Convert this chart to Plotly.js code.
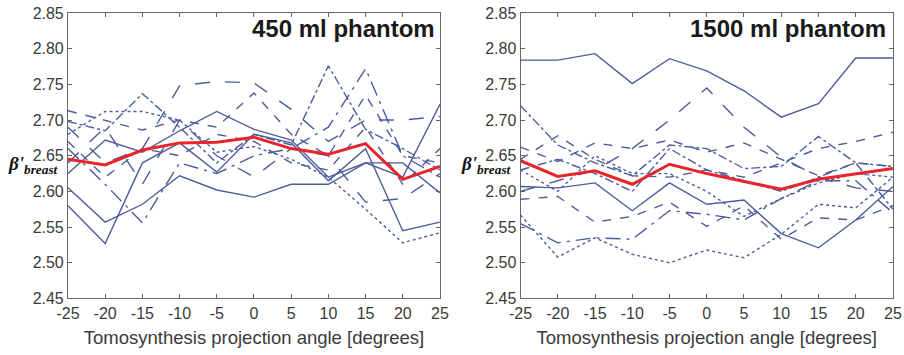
<!DOCTYPE html>
<html>
<head>
<meta charset="utf-8">
<script src="https://cdn.plot.ly/plotly-3.0.1.min.js"></script>
<style>html,body{margin:0;padding:0;background:#fff;}#chart{width:904px;height:355px;}</style>
</head>
<body>
<div id="chart"></div>
<script>
const angles = [-25, -20, -15, -10, -5, 0, 5, 10, 15, 20, 25];
const yTicks = [2.45, 2.50, 2.55, 2.60, 2.65, 2.70, 2.75, 2.80, 2.85];
const yTickLabels = ["2.45", "2.50", "2.55", "2.60", "2.65", "2.70", "2.75", "2.80", "2.85"];
const panelTitles = ["450 ml phantom", "1500 ml phantom"];
const xTitle = "Tomosynthesis projection angle [degrees]";

// 450 ml phantom
const left1 = [2.605, 2.557, 2.582, 2.622, 2.602, 2.592, 2.610, 2.610, 2.640, 2.640, 2.598];
const left2 = [2.580, 2.527, 2.640, 2.668, 2.627, 2.680, 2.668, 2.615, 2.660, 2.545, 2.557];
const left3 = [2.625, 2.672, 2.655, 2.685, 2.712, 2.687, 2.672, 2.620, 2.640, 2.620, 2.722];
const left4 = [2.690, 2.640, 2.660, 2.748, 2.754, 2.752, 2.715, 2.670, 2.700, 2.700, 2.705];
const left5 = [2.713, 2.700, 2.686, 2.700, 2.690, 2.738, 2.680, 2.650, 2.735, 2.650, 2.640];
const left6 = [2.698, 2.685, 2.737, 2.690, 2.640, 2.680, 2.665, 2.776, 2.687, 2.660, 2.630];
const left7 = [2.680, 2.712, 2.712, 2.700, 2.655, 2.663, 2.645, 2.620, 2.575, 2.528, 2.542];
const left8 = [2.660, 2.610, 2.556, 2.640, 2.625, 2.650, 2.660, 2.690, 2.772, 2.650, 2.620];
const left9 = [2.640, 2.690, 2.610, 2.700, 2.650, 2.620, 2.660, 2.650, 2.585, 2.590, 2.625];
const left10 = [2.670, 2.620, 2.660, 2.650, 2.680, 2.670, 2.640, 2.630, 2.690, 2.610, 2.660];
const leftMean = [2.645, 2.637, 2.658, 2.668, 2.669, 2.676, 2.660, 2.652, 2.667, 2.617, 2.635];

// 1500 ml phantom
const right1 = [2.784, 2.784, 2.793, 2.751, 2.786, 2.769, 2.741, 2.704, 2.723, 2.787, 2.787];
const right2 = [2.600, 2.615, 2.630, 2.660, 2.700, 2.745, 2.690, 2.648, 2.620, 2.605, 2.600];
const right3 = [2.720, 2.665, 2.640, 2.622, 2.665, 2.660, 2.632, 2.635, 2.677, 2.640, 2.635];
const right4 = [2.662, 2.642, 2.668, 2.660, 2.672, 2.655, 2.668, 2.645, 2.622, 2.640, 2.635];
const right5 = [2.645, 2.678, 2.645, 2.622, 2.620, 2.630, 2.620, 2.640, 2.660, 2.670, 2.683];
const right6 = [2.630, 2.600, 2.650, 2.625, 2.625, 2.600, 2.565, 2.590, 2.612, 2.625, 2.620];
const right7 = [2.607, 2.605, 2.612, 2.573, 2.612, 2.582, 2.588, 2.541, 2.521, 2.560, 2.607];
const right8 = [2.589, 2.593, 2.557, 2.565, 2.585, 2.551, 2.580, 2.533, 2.563, 2.560, 2.580];
const right9 = [2.567, 2.508, 2.535, 2.512, 2.500, 2.518, 2.507, 2.540, 2.582, 2.577, 2.620];
const right10 = [2.555, 2.528, 2.535, 2.533, 2.573, 2.568, 2.560, 2.590, 2.615, 2.615, 2.570];
const right11 = [2.630, 2.645, 2.625, 2.600, 2.660, 2.630, 2.615, 2.600, 2.620, 2.640, 2.575];
const rightMean = [2.643, 2.621, 2.629, 2.610, 2.638, 2.625, 2.614, 2.603, 2.617, 2.625, 2.632];

const BLUE = "#4d5c9b";
const RED = "#e8252b";

const leftSeries = [
  [left1, "solid"], [left2, "solid"], [left3, "solid"], [left4, "longdash"],
  [left5, "dash"], [left6, "dashdot"], [left7, "dot"], [left8, "longdashdot"],
  [left9, "longdash"], [left10, "dash"]
];
const rightSeries = [
  [right1, "solid"], [right2, "longdash"], [right3, "dashdot"], [right4, "dash"],
  [right5, "dash"], [right6, "dot"], [right7, "solid"], [right8, "dash"],
  [right9, "dot"], [right10, "longdashdot"], [right11, "dashdot"]
];

const traces = [];
leftSeries.forEach(([v, d]) => traces.push({x: angles, y: v, xaxis: "x", yaxis: "y", mode: "lines",
  line: {color: BLUE, width: 1.4, dash: d}, hoverinfo: "skip"}));
traces.push({x: angles, y: leftMean, xaxis: "x", yaxis: "y", mode: "lines", line: {color: RED, width: 3}});
rightSeries.forEach(([v, d]) => traces.push({x: angles, y: v, xaxis: "x2", yaxis: "y2", mode: "lines",
  line: {color: BLUE, width: 1.4, dash: d}, hoverinfo: "skip"}));
traces.push({x: angles, y: rightMean, xaxis: "x2", yaxis: "y2", mode: "lines", line: {color: RED, width: 3}});

const tickFont = {family: "Arial, Liberation Sans, sans-serif", size: 16, color: "#3a3a3a"};
function xAxis(domain, anchor) {
  return {domain: domain, anchor: anchor, range: [-25, 25], tickvals: angles, ticktext: angles.map(String),
    ticks: "inside", ticklen: 4, tickcolor: "#666", mirror: "ticks", showline: true, linecolor: "#666", linewidth: 1,
    showgrid: false, zeroline: false, tickfont: tickFont,
    title: {text: xTitle, font: {family: "Arial, Liberation Sans, sans-serif", size: 18.5, color: "#3a3a3a"}, standoff: 10}};
}
function yAxis(anchor) {
  return {domain: [0.1592, 0.9634], anchor: anchor, range: [2.45, 2.85], tickvals: yTicks, ticktext: yTickLabels,
    ticks: "inside", ticklen: 4, tickcolor: "#666", mirror: "ticks", showline: true, linecolor: "#666", linewidth: 1,
    showgrid: false, zeroline: false, tickfont: tickFont};
}

const betaText = "<b><i>β'<sub>breast</sub></i></b>";
const betaFont = {family: "Liberation Serif, Times New Roman, serif", size: 19, color: "#111"};

const layout = {
  width: 904, height: 355, margin: {l: 0, r: 0, t: 0, b: 0},
  paper_bgcolor: "#fff", plot_bgcolor: "#fff", showlegend: false,
  xaxis: xAxis([0.0752, 0.4867], "y"),
  yaxis: yAxis("x"),
  xaxis2: xAxis([0.5758, 0.9878], "y2"),
  yaxis2: yAxis("x2"),
  annotations: [
    {text: "<b>" + panelTitles[0] + "</b>", xref: "paper", yref: "paper", x: 0.483, y: 0.92,
      xanchor: "right", yanchor: "middle", showarrow: false,
      font: {family: "Arial, Liberation Sans, sans-serif", size: 24, color: "#1a1a1a"}},
    {text: "<b>" + panelTitles[1] + "</b>", xref: "paper", yref: "paper", x: 0.982, y: 0.92,
      xanchor: "right", yanchor: "middle", showarrow: false,
      font: {family: "Arial, Liberation Sans, sans-serif", size: 24, color: "#1a1a1a"}},
    {text: betaText, xref: "paper", yref: "paper", x: 0.007, y: 0.535, xanchor: "left", yanchor: "middle",
      showarrow: false, font: betaFont},
    {text: betaText, xref: "paper", yref: "paper", x: 0.508, y: 0.535, xanchor: "left", yanchor: "middle",
      showarrow: false, font: betaFont}
  ]
};

Plotly.newPlot("chart", traces, layout, {displayModeBar: false, staticPlot: true});
</script>
</body>
</html>
